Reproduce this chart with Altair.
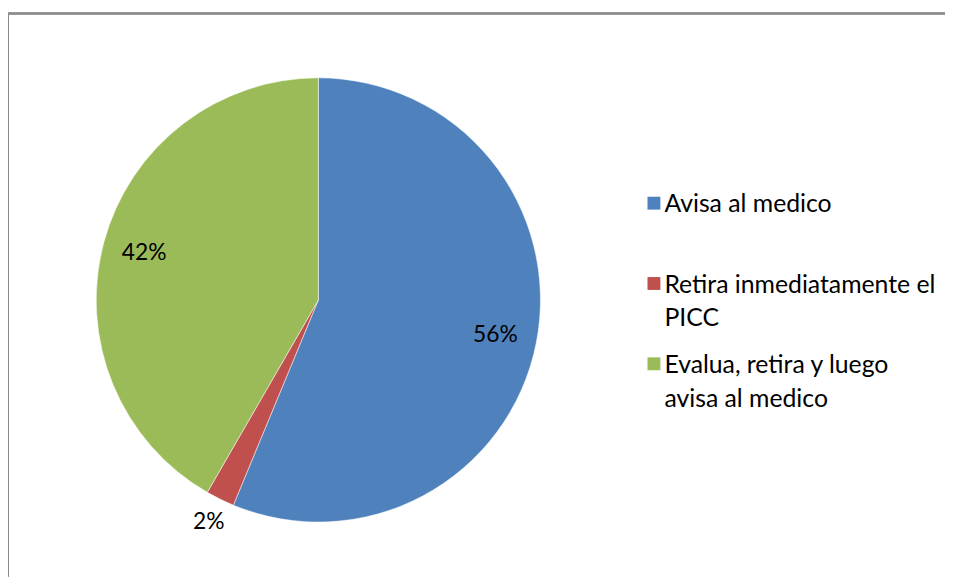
import altair as alt
import pandas as pd

categories = ["Avisa al medico", "Retira inmediatamente el PICC", "Evalua, retira y luego avisa al medico"]
counts = [27, 1, 20]
colors = ["#4F81BD", "#C0504D", "#9BBB59"]

df = pd.DataFrame({"category": categories, "count": counts, "idx": list(range(len(categories)))})

FONT = "Lato"
W, H = 945, 568
CX, CY, R = 313, 289, 224

label_expr = (
    "datum.label == 'Retira inmediatamente el PICC' ? ['Retira inmediatamente el', 'PICC'] : "
    "datum.label == 'Evalua, retira y luego avisa al medico' ? ['Evalua, retira y luego', 'avisa al medico'] : datum.label"
)

pie = alt.Chart(df).mark_arc(radius=R, stroke="white", strokeWidth=0.5).encode(
    theta=alt.Theta("count:Q", stack=True),
    order=alt.Order("idx:Q"),
    x=alt.value(CX),
    y=alt.value(CY),
    color=alt.Color(
        "category:N",
        scale=alt.Scale(domain=categories, range=colors),
        sort=categories,
        legend=alt.Legend(
            title=None,
            orient="none",
            legendX=637,
            legendY=188,
            symbolType="M-0.7,-2.4H1.3V-0.4H-0.7Z",
            symbolSize=169,
            symbolStrokeWidth=0,
            labelFont=FONT,
            labelFontSize=25,
            labelColor="black",
            labelLimit=400,
            labelExpr=label_expr,
            labelBaseline="alphabetic",
            labelOffset=0,
            gridAlign="all",
            rowPadding=21,
            padding=0,
        ),
    ),
)

labels = (
    alt.Chart(df)
    .transform_window(cum="sum(count)", sort=[alt.SortField("idx")], frame=[None, 0])
    .transform_joinaggregate(total="sum(count)")
    .transform_calculate(
        pct="format(datum.count / datum.total, '.0%')",
        mid="(datum.cum - datum.count / 2) / datum.total * 2 * PI",
        r="datum.count / datum.total < 0.05 ? 250 : 182",
    )
    .mark_text(font=FONT, fontSize=23, color="black")
    .encode(
        theta=alt.Theta("mid:Q", scale=None, stack=False),
        radius=alt.Radius("r:Q", scale=None),
        x=alt.value(CX),
        y=alt.value(CY),
        text="pct:N",
    )
)

top_line = alt.Chart(df).mark_rule(color="#8c8c8c", strokeWidth=2).encode(
    x=alt.value(0), x2=alt.value(W), y=alt.value(0), y2=alt.value(0)
)
left_line = alt.Chart(df).mark_rule(color="#8c8c8c", strokeWidth=2).encode(
    x=alt.value(0), x2=alt.value(0), y=alt.value(0), y2=alt.value(H)
)

chart = alt.layer(pie, labels, top_line, left_line).resolve_scale(
    theta="independent", radius="independent"
).properties(
    width=W,
    height=H,
    autosize=alt.AutoSizeParams(type="none"),
    padding={"left": 0, "top": 3, "right": 0, "bottom": 0},
).configure(style={"guide-label": {"lineHeight": 34}}).configure_view(stroke=None)

chart.save("out.html", embed_options={"renderer": "svg", "actions": False})
